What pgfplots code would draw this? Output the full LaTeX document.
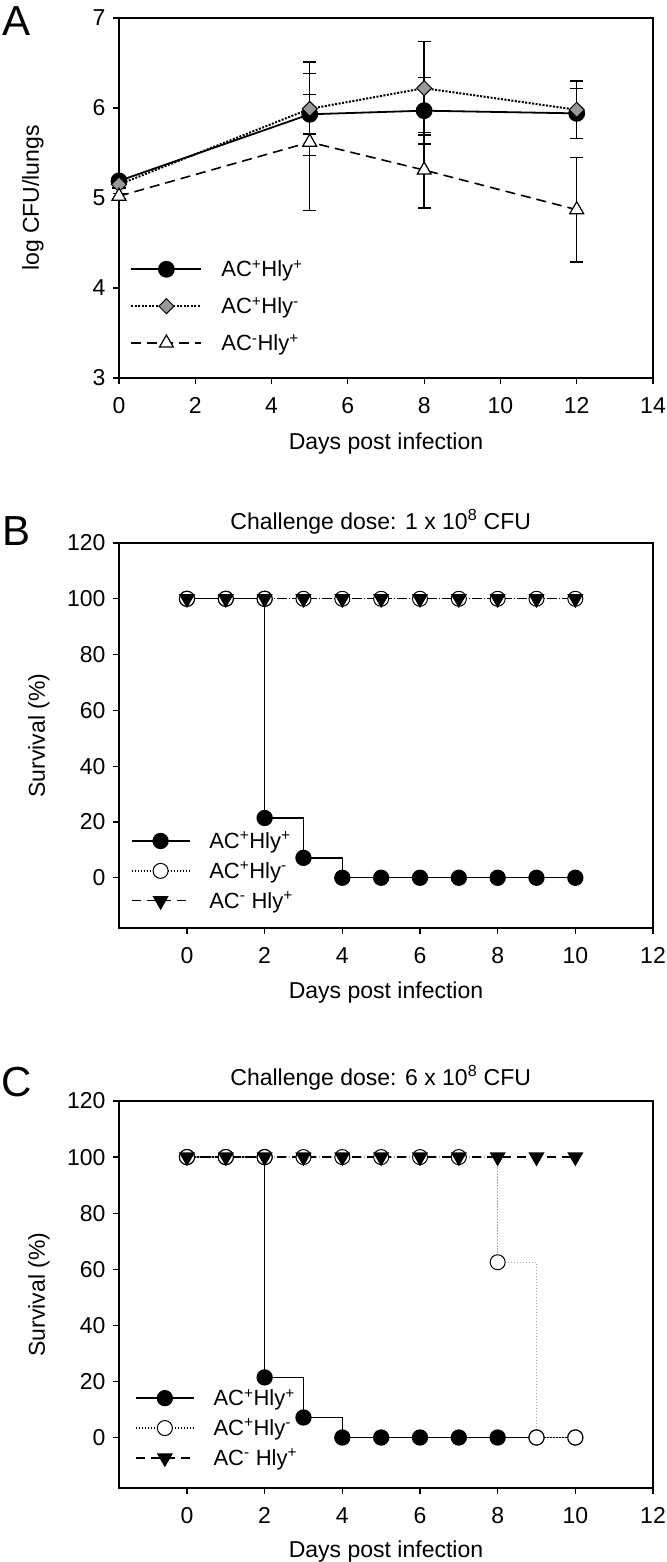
\documentclass[border=0pt]{standalone}
\usepackage{fontspec}
\setmainfont{Liberation Sans}
\usepackage{pgfplots}
\pgfplotsset{compat=1.18}
\newcommand{\tkf}{\fontsize{23}{27}\selectfont}
\newcommand{\lgf}{\fontsize{22}{26}\selectfont}
\pgfplotsset{
  panel/.style={
    scale only axis, width=534pt, clip=false,
    axis line style={line width=1.3pt, black},
    tick align=outside, xtick pos=bottom, ytick pos=left,
    major tick length=6pt, tick style={line width=1.2pt, black},
    ticklabel style={font=\tkf},
    xticklabel style={yshift=-10pt},
    yticklabel style={xshift=-4pt},
    /pgf/number format/assume math mode=true,
    label style={font=\tkf},
    title style={font=\tkf},
    legend cell align=left,
    legend style={draw=none, fill=none, inner sep=0pt, column sep=17pt, font=\lgf},
  },
  limg/.style={legend image code/.code={\draw[mark repeat=2,mark phase=2,##1] plot coordinates {(0pt,0pt) (#1pt,0pt) (2*#1pt,0pt)};}},
}
\begin{document}
\begin{tikzpicture}[x=1pt,y=1pt]
\path[use as bounding box] (0,0) rectangle (666,1562);
\node[font=\fontsize{42}{42}\selectfont] at (17,1541) {A};
\node[font=\fontsize{42}{42}\selectfont] at (17,1031) {B};
\node[font=\fontsize{42}{42}\selectfont] at (17,480) {C};

% ---------------- Panel A ----------------
\begin{axis}[panel, at={(119pt,1184pt)}, anchor=south west, height=360pt,
  xmin=0, xmax=14, ymin=3, ymax=7,
  xtick={0,2,...,14}, ytick={3,4,5,6,7},
  xlabel={Days post infection}, ylabel={log CFU/lungs},
  xlabel style={at={(axis description cs:0.5,-0.183)}, anchor=center},
  ylabel style={at={(axis description cs:-0.161,0.5)}, anchor=center},
  limg=35,
  legend style={at={(axis description cs:0.021,0.333)}, anchor=north west, row sep=15pt},
]
\addplot[black, line width=1.8pt, mark=*, mark size=7.5pt, mark options={solid, fill=black},
  error bars/.cd, y dir=both, y explicit,
  error bar style={line width=1.3pt, solid, black},
  error mark options={rotate=90, mark size=6.5pt, line width=1.3pt, black}]
  table[x=x, y=y, y error=e] {
x y e
0 5.19 0.05
5 5.93 0.22
8 5.97 0.37
12 5.94 0.28
};
\addlegendentry{AC\textsuperscript{+}Hly\textsuperscript{+}}
\addplot[black, line width=2pt, dash pattern=on 2pt off 1.5pt, mark=square*, mark size=5.3pt, mark options={solid, rotate=45, fill=black!40, draw=black, line width=1pt},
  error bars/.cd, y dir=both, y explicit,
  error bar style={line width=1.3pt, solid, black},
  error mark options={rotate=90, mark size=6.5pt, line width=1.3pt, black}]
  table[x=x, y=y, y error=e] {
x y e
0 5.15 0.04
5 5.99 0.52
8 6.22 0.52
12 5.98 0.32
};
\addlegendentry{AC\textsuperscript{+}Hly\textsuperscript{-}}
\addplot[black, line width=1.6pt, dash pattern=on 10pt off 6pt, mark=triangle*, mark size=8pt, mark options={solid, fill=white, draw=black, line width=1.2pt},
  error bars/.cd, y dir=both, y explicit,
  error bar style={line width=1.3pt, solid, black},
  error mark options={rotate=90, mark size=6.5pt, line width=1.3pt, black}]
  table[x=x, y=y, y error=e] {
x y e
0 5.02 0.03
5 5.62 0.76
8 5.31 0.42
12 4.87 0.58
};
\addlegendentry{AC\textsuperscript{-}Hly\textsuperscript{+}}
\end{axis}

% ---------------- Panel B ----------------
\begin{axis}[panel, at={(119pt,634pt)}, anchor=south west, height=385pt,
  xmin=-1.75, xmax=12, ymin=-18, ymax=120,
  xtick={0,2,...,12}, ytick={0,20,...,120},
  xlabel={Days post infection}, ylabel={Survival (\%)},
  xlabel style={at={(axis description cs:0.5,-0.168)}, anchor=center},
  ylabel style={at={(axis description cs:-0.150,0.5)}, anchor=center},
  title={Challenge dose: 1 x 10\textsuperscript{8} CFU},
  title style={at={(axis description cs:0.49,1)}, anchor=center, yshift=15pt},
  limg=29,
  legend style={at={(axis description cs:0.022,0.255)}, anchor=north west, row sep=8pt},
]
\addplot[black, line width=1.3pt, const plot mark left, mark=*, mark size=7.5pt, mark options={solid, fill=black}]
  table {
0 100
1 100
2 100
2 21.43
3 7.14
4 0
5 0
6 0
7 0
8 0
9 0
10 0
};
\addlegendentry{AC\textsuperscript{+}Hly\textsuperscript{+}}
\addplot[black, line width=1.3pt, dash pattern=on 1.5pt off 1.5pt, mark=*, mark size=7.5pt, mark options={solid, fill=white, draw=black, line width=1pt}]
  table {
0 100
1 100
2 100
3 100
4 100
5 100
6 100
7 100
8 100
9 100
10 100
};
\addlegendentry{AC\textsuperscript{+}Hly\textsuperscript{-}}
\addplot[black, line width=1.3pt, dash pattern=on 9pt off 6pt, mark=triangle*, mark size=8pt, mark options={solid, rotate=180, fill=black}]
  table {
0 100
1 100
2 100
3 100
4 100
5 100
6 100
7 100
8 100
9 100
10 100
};
\addlegendentry{AC\textsuperscript{-} Hly\textsuperscript{+}}
\end{axis}

% ---------------- Panel C ----------------
\begin{axis}[panel, at={(119pt,74pt)}, anchor=south west, height=387pt,
  xmin=-1.75, xmax=12, ymin=-18, ymax=120,
  xtick={0,2,...,12}, ytick={0,20,...,120},
  xlabel={Days post infection}, ylabel={Survival (\%)},
  xlabel style={at={(axis description cs:0.5,-0.165)}, anchor=center},
  ylabel style={at={(axis description cs:-0.150,0.5)}, anchor=center},
  title={Challenge dose: 6 x 10\textsuperscript{8} CFU},
  title style={at={(axis description cs:0.49,1)}, anchor=center, yshift=17pt},
  limg=29,
  legend style={at={(axis description cs:0.03,0.261)}, anchor=north west, row sep=8pt},
]
\addplot[black, line width=1.3pt, const plot mark left, mark=*, mark size=7.5pt, mark options={solid, fill=black}]
  table {
0 100
1 100
2 100
2 21.43
3 7.14
4 0
5 0
6 0
7 0
8 0
9 0
10 0
};
\addlegendentry{AC\textsuperscript{+}Hly\textsuperscript{+}}
\addlegendimage{black, line width=1.3pt, dash pattern=on 1.5pt off 1.5pt, mark=*, mark size=7.5pt, mark options={solid, fill=white, draw=black, line width=1pt}}
\addlegendentry{AC\textsuperscript{+}Hly\textsuperscript{-}}
\addplot[black!35, line width=1.3pt, const plot mark left, dash pattern=on 1.5pt off 1.5pt, mark=*, mark size=7.5pt, mark options={solid, fill=white, draw=black, line width=1pt}, forget plot]
  table {
0 100
1 100
2 100
3 100
4 100
5 100
6 100
7 100
8 62.5
9 0
10 0
};
\addplot[black, line width=1.3pt, dash pattern=on 9pt off 6pt, mark=triangle*, mark size=8pt, mark options={solid, rotate=180, fill=black}]
  table {
0 100
1 100
2 100
3 100
4 100
5 100
6 100
7 100
8 100
9 100
10 100
};
\addlegendentry{AC\textsuperscript{-} Hly\textsuperscript{+}}
\end{axis}
\end{tikzpicture}
\end{document}
